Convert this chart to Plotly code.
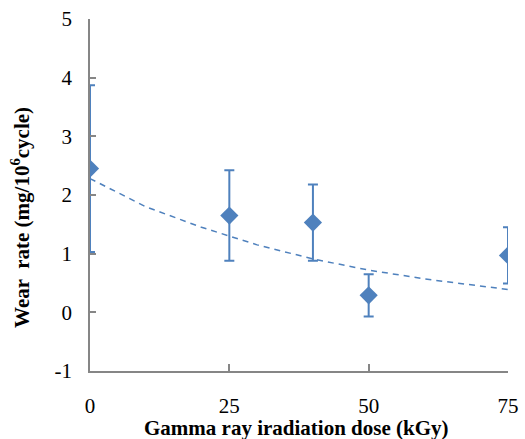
import plotly.graph_objects as go

dose = [0, 25, 40, 50, 75]
wear = [2.45, 1.65, 1.53, 0.29, 0.97]
err = [1.42, 0.77, 0.65, 0.36, 0.48]

trend_x = [0, 10, 20, 25, 30, 40, 50, 60, 75]
trend_y = [2.28, 1.80, 1.45, 1.30, 1.15, 0.91, 0.72, 0.57, 0.39]

x_ticks = [0, 25, 50, 75]
x_labels = ["0", "25", "50", "75"]
y_ticks = [-1, 0, 1, 2, 3, 4, 5]
y_labels = ["-1", "0", "1", "2", "3", "4", "5"]

blue = "#4F81BD"
grey = "#868686"
serif = "Liberation Serif"

fig = go.Figure()
fig.add_trace(go.Scatter(
    x=trend_x, y=trend_y, mode="lines",
    line=dict(color=blue, width=1.5, dash="6px,5px"),
    showlegend=False, hoverinfo="skip"))
fig.add_trace(go.Scatter(
    x=dose, y=wear, mode="markers",
    marker=dict(symbol="diamond", size=14, color=blue),
    error_y=dict(type="data", array=err, visible=True, color=blue,
                 thickness=2, width=5),
    showlegend=False))

fig.update_layout(
    width=525, height=439,
    margin=dict(l=90, r=17, t=19, b=68),
    paper_bgcolor="white", plot_bgcolor="white",
    font=dict(family=serif, size=19, color="black"),
    xaxis=dict(range=[0, 75], tickvals=x_ticks, ticktext=x_labels,
               showgrid=False, zeroline=False, automargin=False,
               showline=True, linecolor=grey, linewidth=1.5,
               ticks="inside", ticklen=7, tickcolor=grey, tickwidth=1.5,
               ticklabelstandoff=15,
               tickfont=dict(family=serif, size=21, color="black")),
    yaxis=dict(range=[-1, 5], tickvals=y_ticks, ticktext=y_labels,
               showgrid=False, zeroline=False, automargin=False,
               showline=True, linecolor=grey, linewidth=1.5,
               ticks="inside", ticklen=6, tickcolor=grey, tickwidth=1.5,
               ticklabelstandoff=12,
               tickfont=dict(family=serif, size=21, color="black")),
    annotations=[
        dict(text="<b>Gamma ray iradiation dose (kGy)</b>", xref="paper", yref="paper",
             x=0.493, y=-0.162, xanchor="center", yanchor="middle",
             showarrow=False, font=dict(family=serif, size=21, color="black")),
        dict(text="<b>Wear  rate (mg/10<sup>6</sup>cycle)</b>", xref="paper", yref="paper",
             x=-0.165, y=0.435, xanchor="center", yanchor="middle", textangle=-90,
             showarrow=False, font=dict(family=serif, size=21, color="black")),
    ],
)

fig.write_html("out.html")
